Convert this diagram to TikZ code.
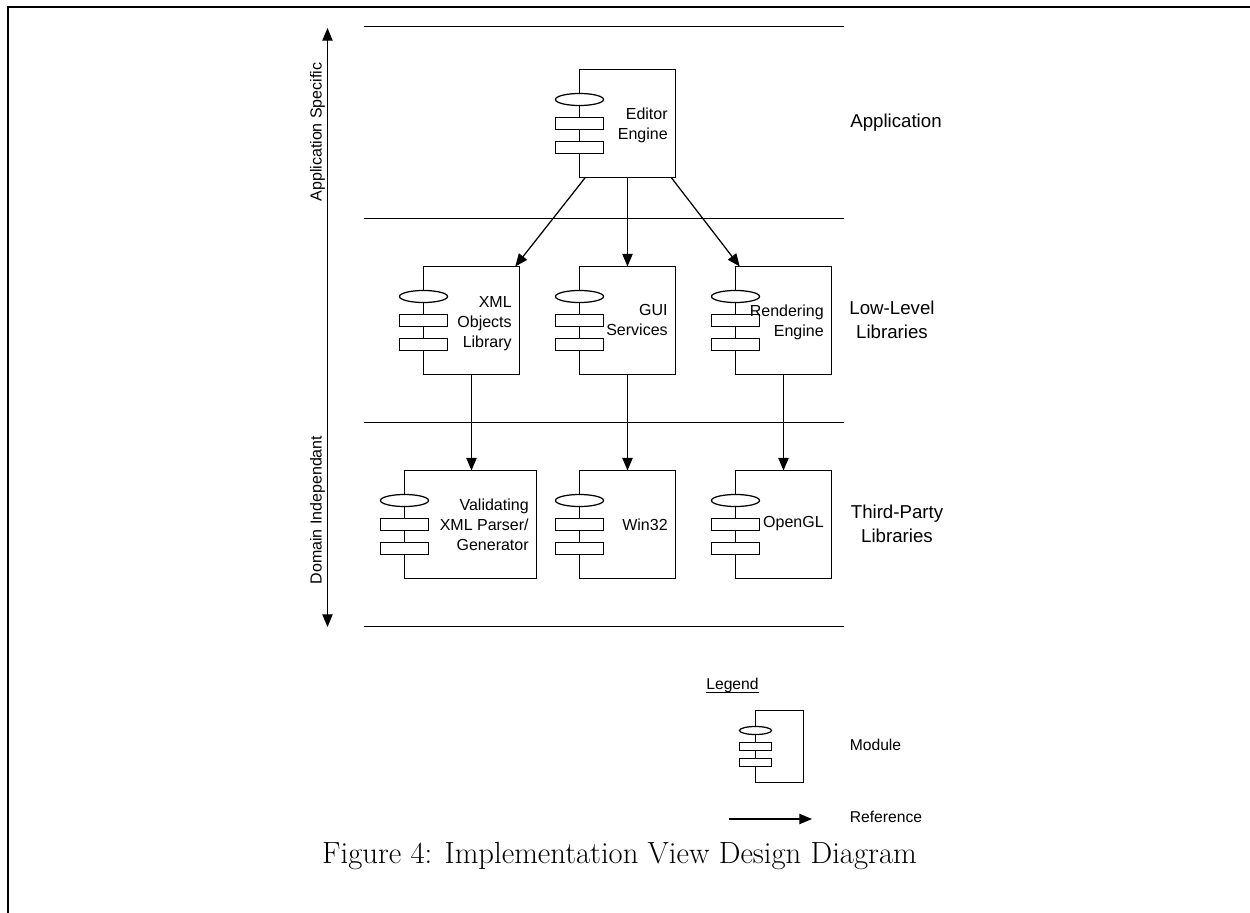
\documentclass[tikz,border=0pt]{standalone}
\usepackage{fontspec}
\setsansfont{Liberation Sans}
\usetikzlibrary{shapes.geometric,arrows.meta}
\tikzset{
  x=0.6pt,y=-0.6pt,
  line/.style={draw=black,line width=0.75pt},
  frame/.style={draw=black,line width=1.2pt},
  ref/.style={line,-{Triangle[length=7.6pt,width=6.2pt]}},
  box/.style={line,fill=white,rectangle,inner sep=0pt,outer sep=0pt,minimum width=57.6pt,minimum height=64.8pt},
  wbox/.style={box,minimum width=79.2pt},
  lbox/.style={box,minimum width=28.8pt,minimum height=43.2pt},
  ell/.style={line,fill=white,ellipse,inner sep=0pt,outer sep=0pt,minimum width=28.8pt,minimum height=7.2pt},
  rct/.style={line,fill=white,rectangle,inner sep=0pt,outer sep=0pt,minimum width=28.8pt,minimum height=7.2pt},
  lell/.style={ell,minimum width=19.2pt,minimum height=4.8pt},
  lrct/.style={rct,minimum width=19.2pt,minimum height=4.8pt},
  lab/.style={inner sep=0pt,font=\sffamily\fontsize{9.6}{12}\selectfont,align=right},
  big/.style={inner sep=0pt,font=\sffamily\fontsize{11.2}{14.4}\selectfont,align=center},
  small/.style={inner sep=0pt,font=\sffamily\fontsize{9.4}{11}\selectfont},
}
\newcommand{\modparts}[3]{% name, left x, top y
  \node[ell] (#1e) at (#2,#3+30) {};
  \node[rct] (#1a) at (#2,#3+54) {};
  \node[rct] (#1b) at (#2,#3+78) {};
}
\begin{document}
\begin{tikzpicture}
\useasboundingbox (0,0) rectangle (1250,913);
% frame
\coordinate (fbl) at (8,913);
\coordinate (ftl) at (8,7);
\coordinate (ftr) at (1250,7);
\draw[frame] (fbl) -- (ftl) -- (ftr);
% layer lines
\foreach \n/\y in {a/26.5,b/218.5,c/422.5,d/626.5}{
  \coordinate (l\n w) at (364,\y);
  \coordinate (l\n e) at (844,\y);
  \draw[line] (l\n w) -- (l\n e);
}
% axis
\coordinate (axt) at (327.5,28);
\coordinate (axb) at (327.5,627);
\draw[line,{Triangle[length=7.6pt,width=6.2pt]}-{Triangle[length=7.6pt,width=6.2pt]}] (axb) -- (axt);
\node[lab,rotate=90] (asp) at (317.5,132) {Application Specific};
\node[lab,rotate=90] (dind) at (317.5,510) {Domain Independant};
% modules
\node[box] (editor) at (627.5,123.5) {};
\modparts{editor}{579.5}{69.5}
\node[box] (xml) at (471.5,320.5) {};
\modparts{xml}{423.5}{266.5}
\node[box] (gui) at (627.5,320.5) {};
\modparts{gui}{579.5}{266.5}
\node[box] (rend) at (783.5,320.5) {};
\modparts{rend}{735.5}{266.5}
\node[wbox] (val) at (470.5,524.5) {};
\modparts{val}{404.5}{470.5}
\node[box] (win) at (627.5,524.5) {};
\modparts{win}{579.5}{470.5}
\node[box] (ogl) at (783.5,524.5) {};
\modparts{ogl}{735.5}{470.5}
% module labels
\node[lab,anchor=east] (t1) at (668,125.5) {Editor\\Engine};
\node[lab,anchor=east] (t2) at (512,324) {XML\\Objects\\Library};
\node[lab,anchor=east] (t3) at (668,319.5) {GUI\\Services};
\node[lab,anchor=east] (t4) at (824,322) {Rendering\\Engine};
\node[lab,anchor=east] (t5) at (529,525) {Validating\\XML Parser/\\Generator};
\node[lab,anchor=east] (t6) at (668,525) {Win32};
\node[lab,anchor=east] (t7) at (824,524) {OpenGL};
% layer labels
\node[big] (u1) at (896,123) {Application};
\node[big] (u2) at (892,320) {Low-Level\\Libraries};
\node[big] (u3) at (897,524) {Third-Party\\Libraries};
% references
\draw[ref] (editor.-128.5) -- (xml.51);
\draw[ref] (editor.south) -- (gui.north);
\draw[ref] (editor.-51) -- (rend.129);
\draw[ref] (xml.south) -- (val.north -| xml.south);
\draw[ref] (gui.south) -- (win.north);
\draw[ref] (rend.south) -- (ogl.north);
% legend
\node[small] (lg) at (732.5,685) {Legend};
\draw[line] (lg.south west) -- (lg.south east);
\node[lbox] (lm) at (779.5,746.5) {};
\node[lell] (lme) at (755.5,730.5) {};
\node[lrct] (lma) at (755.5,746.5) {};
\node[lrct] (lmb) at (755.5,762.5) {};
\node[small] (lt) at (875.5,745) {Module};
\coordinate (ra) at (729,819);
\coordinate (rb) at (812,819);
\draw[ref] (ra) -- (rb);
\node[small] (lr) at (886,817) {Reference};
% caption
\node[inner sep=0pt,font=\fontsize{18.4}{22}\selectfont] (cap) at (619.5,856) {Figure 4: Implementation View Design Diagram};
\end{tikzpicture}
\end{document}
